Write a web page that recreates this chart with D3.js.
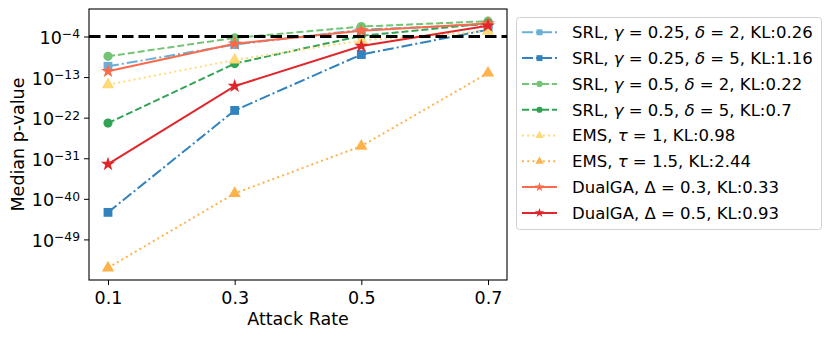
<!DOCTYPE html>
<html>
<head>
<meta charset="utf-8">
<script src="https://cdn.jsdelivr.net/npm/d3@7"></script>
<style>
  body { margin: 0; background: #fff; }
  svg text { font-family: "DejaVu Sans", sans-serif; fill: #000; }
</style>
</head>
<body>
<div id="chart"></div>
<script>
// attack rates on the x axis
var attackRates = [0.1, 0.3, 0.5, 0.7];
var xTicks = [0.1, 0.3, 0.5, 0.7];
var yTickExps = [-49, -40, -31, -22, -13, -4];
var threshold = 1e-4;

// median p-values
var srlG025D2 = [2.5e-11, 1.6e-6, 3.2e-3, 5.0e-2];
var srlG025D5 = [1.0e-43, 4.0e-21, 1.0e-8, 3.2e-3];
var srlG05D2 = [4.0e-9, 5.0e-5, 1.6e-2, 2.5e-1];
var srlG05D5 = [6.3e-24, 1.0e-10, 1.4e-4, 7.9e-2];
var emsT1 = [2.0e-15, 6.3e-10, 1.3e-5, 1.6e-3];
var emsT15 = [5.0e-56, 1.6e-39, 5.0e-29, 7.9e-13];
var dualGA03 = [2.0e-12, 2.5e-6, 2.0e-3, 7.9e-2];
var dualGA05 = [5.0e-33, 1.0e-15, 7.9e-7, 2.5e-2];

// label parts: [text, italic?]
var dashDot = '11,3,2,3', dashed = '7,3', dotted = '2,3.2';
var series = [
  {values: srlG025D2, color: '#6baed6', dash: dashDot, marker: d3.symbolSquare, size: 78,
   label: [['SRL, ', 0], ['γ', 1], [' = 0.25, ', 0], ['δ', 1], [' = 2, KL:0.26', 0]]},
  {values: srlG025D5, color: '#3182bd', dash: dashDot, marker: d3.symbolSquare, size: 78,
   label: [['SRL, ', 0], ['γ', 1], [' = 0.25, ', 0], ['δ', 1], [' = 5, KL:1.16', 0]]},
  {values: srlG05D2, color: '#74c476', dash: dashed, marker: d3.symbolCircle, size: 66,
   label: [['SRL, ', 0], ['γ', 1], [' = 0.5, ', 0], ['δ', 1], [' = 2, KL:0.22', 0]]},
  {values: srlG05D5, color: '#31a354', dash: dashed, marker: d3.symbolCircle, size: 66,
   label: [['SRL, ', 0], ['γ', 1], [' = 0.5, ', 0], ['δ', 1], [' = 5, KL:0.7', 0]]},
  {values: emsT1, color: '#fed976', dash: dotted, marker: d3.symbolTriangle, size: 66,
   label: [['EMS, ', 0], ['τ', 1], [' = 1, KL:0.98', 0]]},
  {values: emsT15, color: '#feb24c', dash: dotted, marker: d3.symbolTriangle, size: 66,
   label: [['EMS, ', 0], ['τ', 1], [' = 1.5, KL:2.44', 0]]},
  {values: dualGA03, color: '#fb6a4a', dash: null, marker: d3.symbolStar, size: 62,
   label: [['DualGA, Δ = 0.3, KL:0.33', 0]]},
  {values: dualGA05, color: '#e0262a', dash: null, marker: d3.symbolStar, size: 62,
   label: [['DualGA, Δ = 0.5, KL:0.93', 0]]}
];

var W = 831, H = 337;
var plot = {left: 89, right: 507, top: 9, bottom: 280};

var svg = d3.select('#chart').append('svg')
  .attr('width', W).attr('height', H);

var x = d3.scaleLinear().domain([0.07, 0.73]).range([plot.left, plot.right]);
var y = d3.scaleLog().domain([Math.pow(10, -58), Math.pow(10, 2.1)]).range([plot.bottom, plot.top]);

// lines
var line = d3.line()
  .x(function (d, i) { return x(attackRates[i]); })
  .y(function (d) { return y(d); });

var g = svg.append('g');
series.forEach(function (s) {
  g.append('path')
    .attr('d', line(s.values))
    .attr('fill', 'none')
    .attr('stroke', s.color)
    .attr('stroke-width', 2)
    .attr('stroke-dasharray', s.dash);
  g.selectAll(null).data(s.values).enter().append('path')
    .attr('d', d3.symbol().type(s.marker).size(s.size))
    .attr('transform', function (d, i) { return 'translate(' + x(attackRates[i]) + ',' + y(d) + ')'; })
    .attr('fill', s.color);
});

// threshold line
svg.append('line')
  .attr('x1', plot.left).attr('x2', plot.right)
  .attr('y1', y(threshold)).attr('y2', y(threshold))
  .attr('stroke', '#000').attr('stroke-width', 3.2)
  .attr('stroke-dasharray', '11.5,5');

// frame
svg.append('rect')
  .attr('x', plot.left).attr('y', plot.top)
  .attr('width', plot.right - plot.left).attr('height', plot.bottom - plot.top)
  .attr('fill', 'none').attr('stroke', '#000').attr('stroke-width', 1.1);

// x axis
var xAxis = svg.append('g')
  .attr('transform', 'translate(0,' + plot.bottom + ')')
  .call(d3.axisBottom(x).tickValues(xTicks).tickFormat(d3.format('.1f')).tickSize(5).tickPadding(5));
xAxis.select('.domain').remove();
xAxis.selectAll('text').style('font-size', '17.5px').attr('dy', '0.82em');

// y axis with power-of-ten labels
var yAxis = svg.append('g')
  .attr('transform', 'translate(' + plot.left + ',0)')
  .call(d3.axisLeft(y).tickValues(yTickExps.map(function (e) { return Math.pow(10, e); }))
    .tickFormat('').tickSize(5));
yAxis.select('.domain').remove();
yAxis.selectAll('.tick').each(function (d) {
  var e = Math.round(Math.log10(d));
  var t = d3.select(this).append('text')
    .attr('x', -9).attr('y', 0).attr('dy', '0.4em')
    .attr('text-anchor', 'end')
    .style('font-size', '17.5px');
  t.append('tspan').text('10');
  t.append('tspan').attr('dy', '-0.45em').style('font-size', '12.3px').text('\u2212' + Math.abs(e));
});

// axis titles
svg.append('text')
  .attr('x', (plot.left + plot.right) / 2).attr('y', 325)
  .attr('text-anchor', 'middle').style('font-size', '17.5px')
  .text('Attack Rate');
svg.append('text')
  .attr('transform', 'translate(24,' + ((plot.top + plot.bottom) / 2) + ') rotate(-90)')
  .attr('text-anchor', 'middle').style('font-size', '17.5px')
  .text('Median p-value');

// legend
var leg = svg.append('g');
leg.append('rect')
  .attr('x', 516.5).attr('y', 17.5).attr('width', 305).attr('height', 212)
  .attr('rx', 3).attr('fill', '#fff').attr('stroke', '#d0d0d0');
series.forEach(function (s, i) {
  var ly = 32.3 + i * 25.8;
  leg.append('line')
    .attr('x1', 522).attr('x2', 557).attr('y1', ly).attr('y2', ly)
    .attr('stroke', s.color).attr('stroke-width', 2)
    .attr('stroke-dasharray', s.dash);
  leg.append('path')
    .attr('d', d3.symbol().type(s.marker).size(s.size * 0.45))
    .attr('transform', 'translate(539.5,' + ly + ')')
    .attr('fill', s.color);
  var t = leg.append('text')
    .attr('x', 572).attr('y', ly).attr('dy', '0.36em')
    .style('font-size', '16.5px');
  s.label.forEach(function (p) {
    t.append('tspan').text(p[0]).style('font-style', p[1] ? 'italic' : 'normal');
  });
});
</script>
</body>
</html>
